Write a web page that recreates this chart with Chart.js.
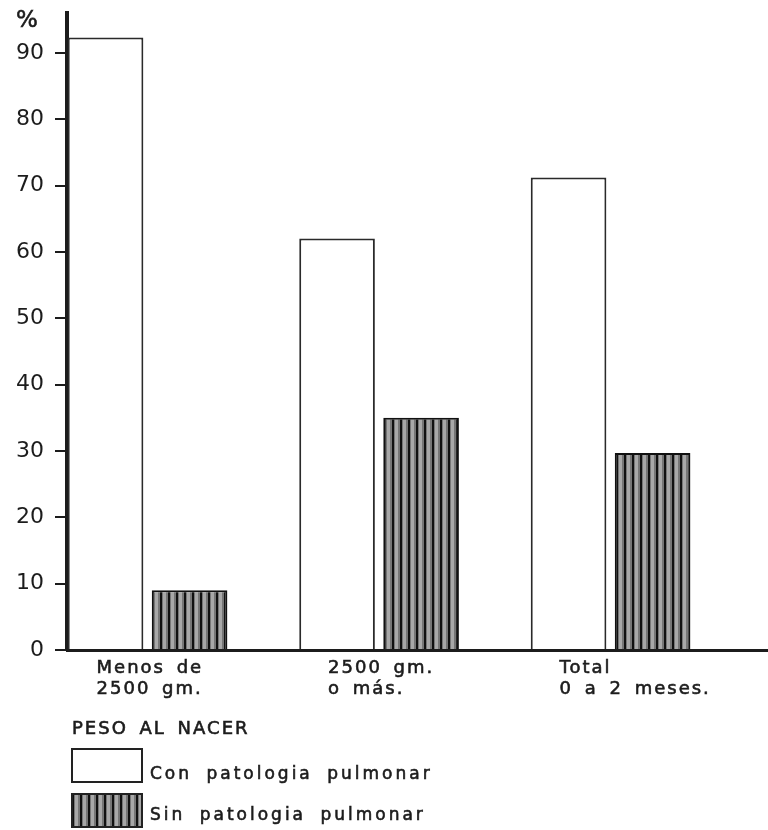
<!DOCTYPE html>
<html>
<head>
<meta charset="utf-8">
<script src="https://cdn.jsdelivr.net/npm/chart.js@4.4.1/dist/chart.umd.min.js"></script>
<style>
html,body{margin:0;padding:0;background:#fff;}
#wrap{width:768px;height:830px;}
</style>
</head>
<body>
<div id="wrap"><canvas id="c" width="768" height="830"></canvas></div>
<script>
// ---- data ----
const categories = [["Menos de", "2500 gm."], ["2500 gm.", "o más."], ["Total", "0 a 2 meses."]];
const conPatologia = [92.3, 62, 71.2];
const sinPatologia = [9, 35, 29.7];
const yTicks = [0, 10, 20, 30, 40, 50, 60, 70, 80, 90];
const seriesNames = ["Con patologia pulmonar", "Sin patologia pulmonar"];
const axisTitle = "PESO AL NACER";
const unitLabel = "%";

const FONT = "'DejaVu Sans', sans-serif";
const INK = "#1c1c1c";

function makeHatch() {
  const p = document.createElement('canvas');
  p.width = 8; p.height = 8;
  const g = p.getContext('2d');
  g.fillStyle = '#767676'; g.fillRect(0, 0, 8, 8);
  g.fillStyle = '#a8a8a8'; g.fillRect(3, 0, 3, 8);
  g.fillStyle = '#111'; g.fillRect(0, 0, 2, 8);
  return g.createPattern(p, 'repeat');
}
const ctx0 = document.getElementById('c').getContext('2d');
const hatch = makeHatch();

function spacedText(ctx, txt, x, y, size, spacing, align) {
  ctx.save();
  ctx.font = size + "px " + FONT;
  ctx.fillStyle = INK;
  ctx.strokeStyle = INK;
  ctx.lineWidth = 0.6;
  ctx.textAlign = align || 'left';
  ctx.textBaseline = 'middle';
  try { ctx.letterSpacing = spacing + 'px'; } catch (e) {}
  try { ctx.wordSpacing = (spacing * 2) + 'px'; } catch (e) {}
  ctx.fillText(txt, x, y);
  ctx.strokeText(txt, x, y);
  ctx.restore();
}

const overlay = {
  id: 'overlay',
  afterDraw(chart) {
    const ctx = chart.ctx;
    const xs = chart.scales.x;
    const ys = chart.scales.y;
    // unit label
    spacedText(ctx, unitLabel, 27, 21, 23, 0, 'center');
    // category labels
    categories.forEach((lines, i) => {
      const cx = xs.getPixelForValue(i) - 51;
      lines.forEach((ln, j) => {
        spacedText(ctx, ln, cx, ys.getPixelForValue(0) + 18 + j * 21, 18, 2);
      });
    });
    // axis title
    spacedText(ctx, axisTitle, 72, 729, 18, 2);
    // legend
    const boxes = [{y: 749, fill: '#fff'}, {y: 794, fill: hatch}];
    const textY = [775, 816];
    boxes.forEach((b, i) => {
      ctx.save();
      ctx.fillStyle = b.fill;
      ctx.fillRect(72, b.y, 70, 33);
      ctx.lineWidth = 2;
      ctx.strokeStyle = '#222';
      ctx.strokeRect(72, b.y, 70, 33);
      ctx.restore();
      spacedText(ctx, seriesNames[i], 150, textY[i], 17, 3);
    });
  }
};

new Chart(ctx0, {
  type: 'bar',
  data: {
    datasets: [
      {
        label: seriesNames[0],
        data: conPatologia.map((v, i) => ({x: i, y: v})),
        backgroundColor: '#ffffff',
        borderColor: '#2a2a2a',
        borderWidth: 2,
        borderSkipped: 'bottom'
      },
      {
        label: seriesNames[1],
        data: sinPatologia.map((v, i) => ({x: i, y: v})),
        backgroundColor: hatch,
        borderColor: '#111',
        borderWidth: 2,
        borderSkipped: 'bottom'
      }
    ]
  },
  plugins: [overlay],
  options: {
    responsive: false,
    animation: false,
    devicePixelRatio: 1,
    categoryPercentage: 0.726,
    barPercentage: 0.9,
    layout: {padding: {top: 13, right: 0, left: 0, bottom: 0}},
    plugins: {legend: {display: false}, tooltip: {enabled: false}},
    scales: {
      x: {
        type: 'linear',
        min: -0.348,
        max: 2.68,
        offset: false,
        grid: {display: false, drawTicks: false, offset: false},
        ticks: {display: false},
        border: {display: true, color: INK, width: 3},
        afterBuildTicks(s) { s.ticks = categories.map((c, i) => ({value: i})); },
        afterFit(s) { s.height = 180; s.paddingLeft = 0; s.paddingRight = 0; }
      },
      y: {
        min: 0,
        max: 96,
        grid: {drawOnChartArea: false, drawTicks: true, tickLength: 12, color: INK, lineWidth: 2},
        border: {display: true, color: INK, width: 4},
        ticks: {
          color: INK,
          padding: 11,
          font: {family: FONT, size: 22},
          stepSize: 10
        },
        afterBuildTicks(s) { s.ticks = yTicks.map(v => ({value: v})); },
        afterFit(s) { s.width = 67; s.paddingTop = 0; s.paddingBottom = 0; }
      }
    }
  }
});
</script>
</body>
</html>
